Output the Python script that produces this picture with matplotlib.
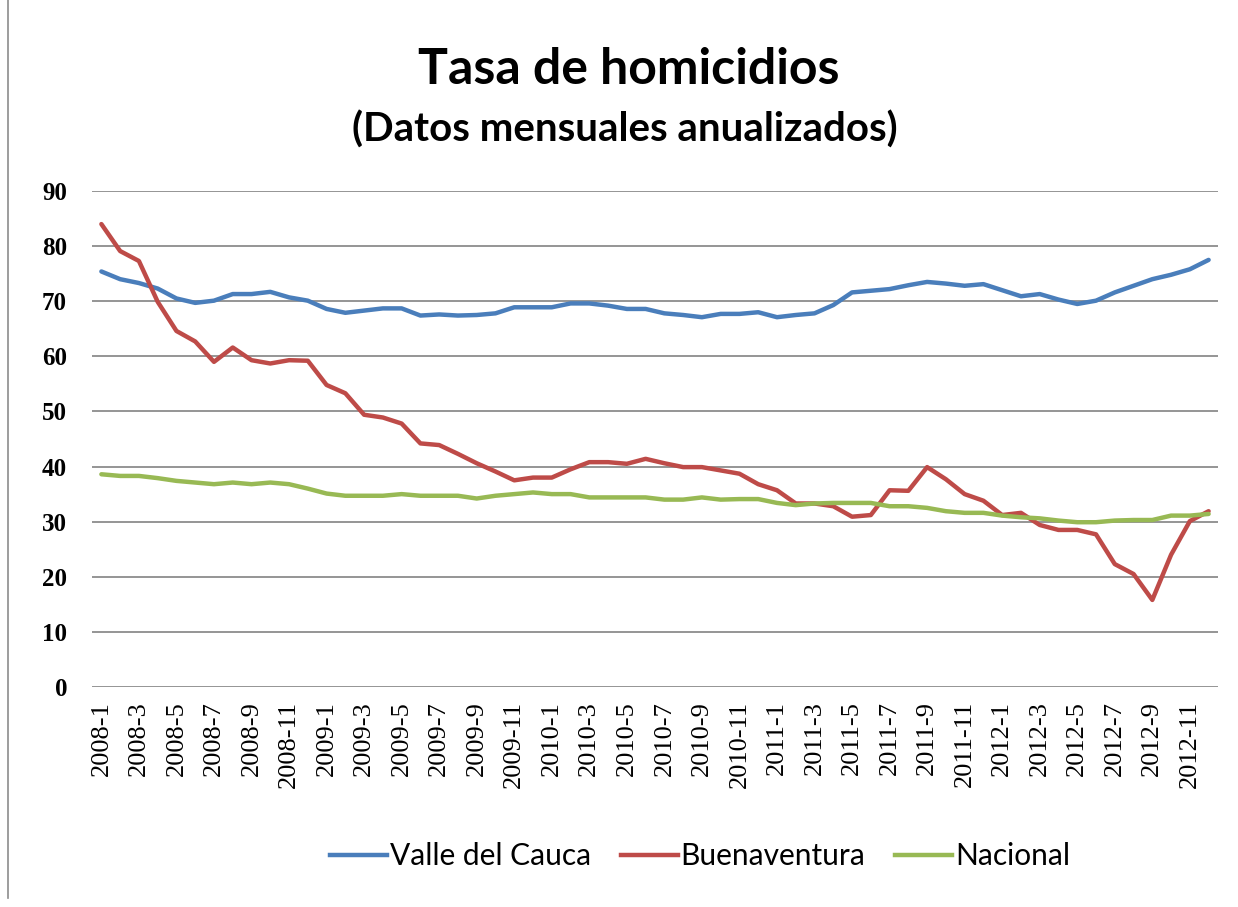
import numpy as np
import matplotlib.pyplot as plt
from matplotlib.lines import Line2D

# Data: monthly annualised homicide rate, 2008-1 .. 2012-12
months = [f"{y}-{m}" for y in range(2008, 2013) for m in range(1, 13)]

valle = [75.4, 74.0, 73.3, 72.3, 70.5, 69.7, 70.1, 71.3, 71.3, 71.7, 70.7, 70.1,
         68.6, 67.9, 68.3, 68.7, 68.7, 67.4, 67.6, 67.4, 67.5, 67.8, 68.9, 68.9,
         68.9, 69.6, 69.6, 69.2, 68.6, 68.6, 67.8, 67.5, 67.1, 67.7, 67.7, 68.0,
         67.1, 67.5, 67.8, 69.3, 71.6, 71.9, 72.2, 72.9, 73.5, 73.2, 72.8, 73.1,
         72.0, 70.9, 71.3, 70.3, 69.5, 70.1, 71.6, 72.8, 74.0, 74.8, 75.8, 77.5]

buenaventura = [84.0, 79.1, 77.3, 69.9, 64.6, 62.7, 59.0, 61.6, 59.3, 58.7, 59.3, 59.2,
                54.8, 53.3, 49.4, 48.9, 47.8, 44.2, 43.9, 42.3, 40.6, 39.1, 37.5, 38.0,
                38.0, 39.5, 40.8, 40.8, 40.5, 41.4, 40.6, 39.9, 39.9, 39.3, 38.7, 36.8,
                35.7, 33.3, 33.3, 32.8, 30.9, 31.2, 35.7, 35.6, 39.9, 37.7, 35.0, 33.8,
                31.2, 31.6, 29.4, 28.5, 28.5, 27.7, 22.3, 20.5, 15.8, 24.0, 30.1, 31.9]

nacional = [38.6, 38.3, 38.3, 37.9, 37.4, 37.1, 36.8, 37.1, 36.8, 37.1, 36.8, 36.0,
            35.1, 34.7, 34.7, 34.7, 35.0, 34.7, 34.7, 34.7, 34.2, 34.7, 35.0, 35.3,
            35.0, 35.0, 34.4, 34.4, 34.4, 34.4, 34.0, 34.0, 34.4, 34.0, 34.1, 34.1,
            33.4, 33.0, 33.3, 33.4, 33.4, 33.4, 32.8, 32.8, 32.5, 31.9, 31.6, 31.6,
            31.1, 30.8, 30.6, 30.2, 29.9, 29.9, 30.2, 30.3, 30.3, 31.1, 31.1, 31.4]

series = [("Valle del Cauca", valle, "#4A7EBB"),
          ("Buenaventura", buenaventura, "#BE4B48"),
          ("Nacional", nacional, "#98B954")]

fig = plt.figure(figsize=(12.38, 9.07), dpi=100)
ax = fig.add_axes([92/1238, 1 - 687/907, (1218 - 92)/1238, (687 - 191)/907])

x = np.arange(len(months))
for name, vals, col in series:
    ax.plot(x, vals, color=col, lw=3.2, label=name, solid_capstyle="round", zorder=3)

ax.set_xlim(-0.5, len(months) - 0.5)
ax.set_ylim(0, 90)
ax.set_yticks(range(0, 91, 10))
ax.yaxis.grid(True, color="#8c8c8c", lw=1.3)
ax.set_axisbelow(True)
for s in ax.spines.values():
    s.set_visible(False)

ax.set_xticks(x[::2])
ax.set_xticklabels(months[::2], rotation=90, family="Liberation Serif", fontsize=19)
ax.tick_params(axis="x", length=0, pad=10)
ax.tick_params(axis="y", length=0, pad=18)
for lab in ax.get_yticklabels():
    lab.set_family("Liberation Serif")
    lab.set_fontweight("bold")
    lab.set_fontsize(18)

fig.text(0.508, 1 - 70/907, "Tasa de homicidios", ha="center", va="center",
         family="Lato", fontweight="bold", fontsize=36)
fig.text(0.505, 1 - 130/907, "(Datos mensuales anualizados)", ha="center", va="center",
         family="Lato", fontweight="bold", fontsize=29)

handles = [Line2D([], [], color=c, lw=3.2) for _, _, c in series]
fig.legend(handles, [n for n, _, _ in series], loc="center", ncol=3,
           bbox_to_anchor=(700/1238, 1 - 856/907), frameon=False,
           prop={"family": "Lato", "size": 21.5}, handlelength=1.9,
           handletextpad=0.1, columnspacing=1.0)

# outer chart border (left edge visible in the original)
fig.add_artist(Line2D([8/1238, 8/1238], [0.01, 1.0], color="#8c8c8c", lw=1.2))

fig.savefig("out.png", dpi=100)
